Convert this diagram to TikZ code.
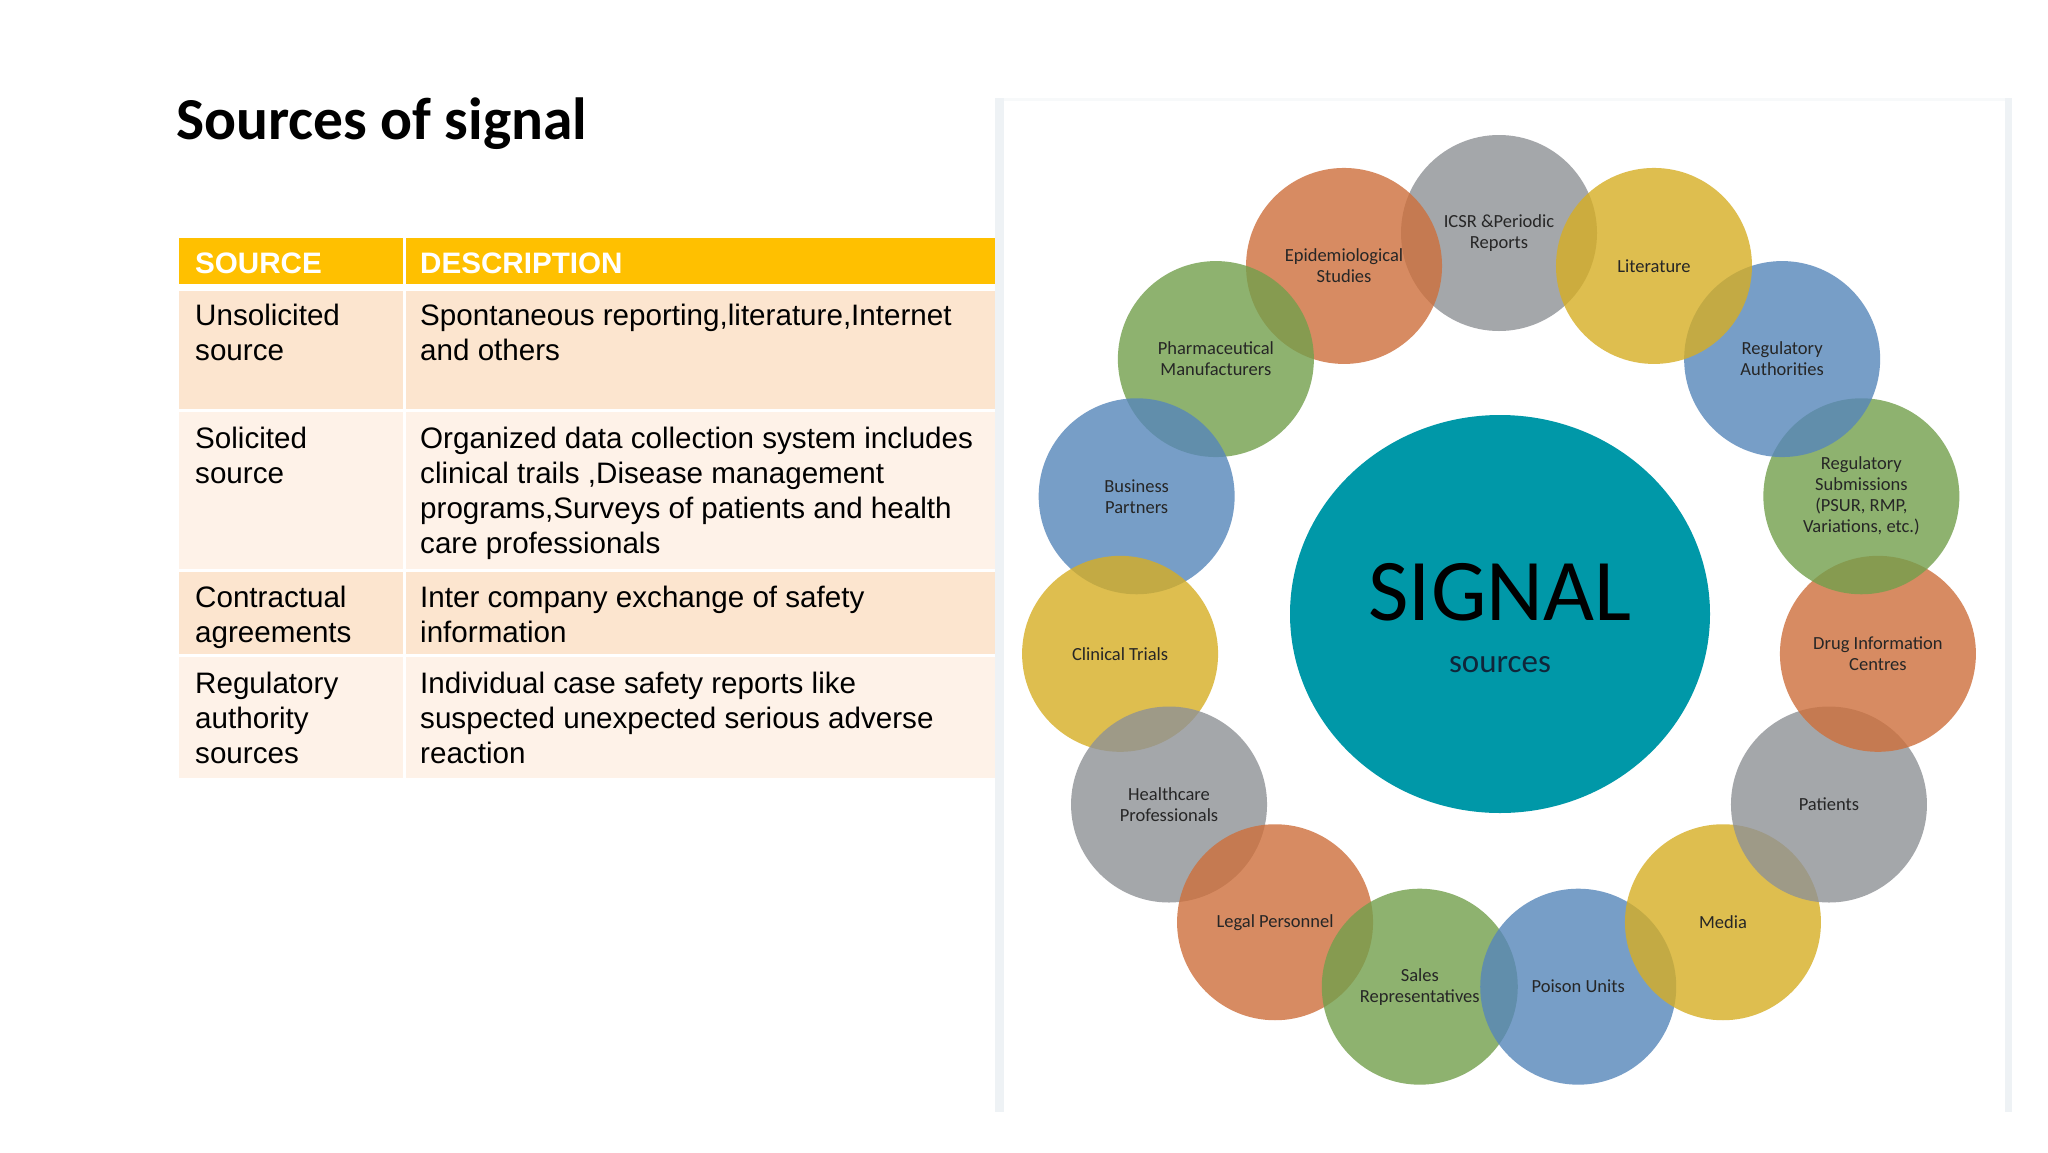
\documentclass[tikz,border=0pt]{standalone}
\usepackage{fontspec}
\usetikzlibrary{shapes.geometric}
\setmainfont{Liberation Sans}
\newfontfamily\carl{Carlito}
\definecolor{hdr}{HTML}{FFC000}
\definecolor{banddark}{HTML}{FCE5CF}
\definecolor{bandlight}{HTML}{FEF2E8}
\definecolor{panelc}{HTML}{EEF2F5}
\definecolor{cgray}{HTML}{8E9195}
\definecolor{corange}{HTML}{CE6F3B}
\definecolor{cgreen}{HTML}{729F4C}
\definecolor{cblue}{HTML}{5686BA}
\definecolor{cyellow}{HTML}{D6AE24}
\definecolor{cteal}{HTML}{0098A8}
\definecolor{labc}{HTML}{262626}
\definecolor{srcc}{HTML}{10263A}
\begin{document}
\begin{tikzpicture}[x=1pt,y=-1pt,
  bodytext/.style={anchor=base west,inner sep=0pt,font=\fontsize{29.6}{35.3}\selectfont},
  hdrtext/.style={anchor=base west,inner sep=0pt,text=white,font=\fontsize{29.6}{35.3}\selectfont\bfseries},
  ringcircle/.style={circle,minimum size=196pt,inner sep=0pt,fill opacity=0.8},
  ringlabel/.style={align=center,inner sep=0pt,text=labc,font=\carl\fontsize{18.5}{21}\selectfont}]
\useasboundingbox (0,0) rectangle (2048,1152);
\fill[white] (0,0) rectangle (2048,1152);
% title
\node[anchor=base west,inner sep=0pt,font=\carl\bfseries\fontsize{59.5}{64}\selectfont] (title) at (176,139) {Sources of signal};
% table cells
\fill[hdr] (179,238) rectangle (403,284);
\fill[hdr] (406,238) rectangle (995,284);
\fill[banddark] (179,291) rectangle (403,409);
\fill[banddark] (406,291) rectangle (995,409);
\fill[bandlight] (179,412) rectangle (403,569);
\fill[bandlight] (406,412) rectangle (995,569);
\fill[banddark] (179,572) rectangle (403,654);
\fill[banddark] (406,572) rectangle (995,654);
\fill[bandlight] (179,657) rectangle (403,778);
\fill[bandlight] (406,657) rectangle (995,778);
% header text
\node[hdrtext] (h1) at (195,273) {SOURCE};
\node[hdrtext] (h2) at (420,273) {DESCRIPTION};
% rows
\node[bodytext] (r1a) at (195,325) {\parbox[t]{200pt}{\raggedright Unsolicited\\source}};
\node[bodytext] (r1b) at (420,325) {\parbox[t]{600pt}{\raggedright Spontaneous reporting,literature,Internet\\and others}};
\node[bodytext] (r2a) at (195,448) {\parbox[t]{200pt}{\raggedright Solicited\\source}};
\node[bodytext] (r2b) at (420,448) {\parbox[t]{600pt}{\raggedright Organized data collection system includes\\clinical trails ,Disease management\\programs,Surveys of patients and health\\care professionals}};
\node[bodytext] (r3a) at (195,607) {\parbox[t]{200pt}{\raggedright Contractual\\agreements}};
\node[bodytext] (r3b) at (420,607) {\parbox[t]{600pt}{\raggedright Inter company exchange of safety\\information}};
\node[bodytext] (r4a) at (195,693) {\parbox[t]{200pt}{\raggedright Regulatory\\authority\\sources}};
\node[bodytext] (r4b) at (420,693) {\parbox[t]{600pt}{\raggedright Individual case safety reports like\\suspected unexpected serious adverse\\reaction}};
% picture panel edges
\fill[panelc] (995,98) rectangle (1004,1112);
\fill[panelc] (2005,98) rectangle (2012,1112);
\fill[panelc!50] (1004,98) rectangle (2005,101);
% center
\node[ellipse,minimum width=420pt,minimum height=398pt,inner sep=0pt,fill=cteal] (sig) at (1500,614) {};
\node[anchor=base,inner sep=0pt,font=\carl\fontsize{88}{90}\selectfont] (sigt) at (1500,620) {SIGNAL};
\node[anchor=base,inner sep=0pt,text=srcc,font=\carl\fontsize{33}{36}\selectfont] (srct) at (1500,672) {sources};
% ring
\foreach \a/\c/\n in {90/cgray/icsr,114/corange/epi,138/cgreen/pharma,162/cblue/bus,186/cyellow/clin,210/cgray/hc,234/corange/legal,258/cgreen/sales,282/cblue/poison,306/cyellow/media,330/cgray/pat,354/corange/drug,18/cgreen/regsub,42/cblue/regauth,66/cyellow/lit}{
  \node[ringcircle,fill=\c] (\n) at ({1499+381*cos(\a)},{614-381*sin(\a)}) {};
}
\foreach \n/\t in {icsr/{ICSR \&Periodic\\Reports},epi/{Epidemiological\\Studies},pharma/{Pharmaceutical\\Manufacturers},bus/{Business\\Partners},clin/{Clinical Trials},hc/{Healthcare\\Professionals},legal/{Legal Personnel},sales/{Sales\\Representatives},poison/{Poison Units},media/{Media},pat/{Patients},drug/{Drug Information\\Centres},regsub/{Regulatory\\Submissions\\(PSUR, RMP,\\Variations, etc.)},regauth/{Regulatory\\Authorities},lit/{Literature}}{
  \node[ringlabel] (\n-l) at (\n.center) {\t};
}
\end{tikzpicture}
\end{document}
